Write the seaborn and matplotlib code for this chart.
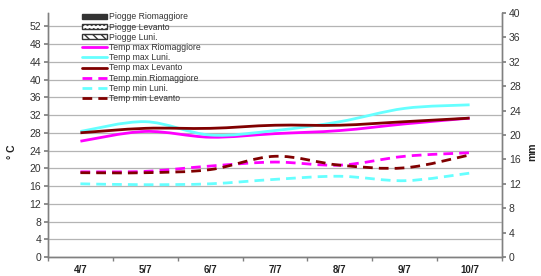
import numpy as np
import pandas as pd
import matplotlib
matplotlib.use("Agg")
import matplotlib.pyplot as plt
from matplotlib.path import Path
from matplotlib.patches import PathPatch, Patch
from matplotlib.lines import Line2D
import seaborn as sns

# --- dati ---
giorni = ["4/7", "5/7", "6/7", "7/7", "8/7", "9/7", "10/7"]
piogge_riomaggiore = [0, 0, 0, 0, 0, 0, 0]
piogge_levanto = [0, 0, 0, 0, 0, 0, 0]
piogge_luni = [0, 0, 0, 0, 0, 0, 0]
tmax_riomaggiore = [26.1, 28.3, 27.0, 27.8, 28.5, 30.0, 31.3]
tmax_luni = [28.3, 30.5, 27.5, 28.5, 30.5, 33.5, 34.3]
tmax_levanto = [28.0, 29.0, 29.0, 29.7, 29.7, 30.5, 31.3]
tmin_riomaggiore = [19.2, 19.3, 20.5, 21.4, 20.7, 22.7, 23.5]
tmin_luni = [16.5, 16.3, 16.5, 17.5, 18.2, 17.2, 18.9]
tmin_levanto = [19.0, 19.0, 19.7, 22.7, 20.7, 20.1, 23.0]

MAGENTA = "#ff00ff"
CIANO = "#66ffff"
BORDEAUX = "#800000"

sns.set_theme(style="white")
plt.rcParams["font.family"] = ["Liberation Sans", "DejaVu Sans"]

fig = plt.figure(figsize=(5.41, 2.76), dpi=100)
ax = fig.add_axes([0.0887, 0.0688, 0.8393, 0.8842])
ax2 = ax.twinx()

# piogge (tutte a zero) sull'asse destro
df_p = pd.DataFrame({"giorno": giorni * 3,
                     "mm": piogge_riomaggiore + piogge_levanto + piogge_luni,
                     "stazione": ["Riomaggiore"] * 7 + ["Levanto"] * 7 + ["Luni."] * 7})
sns.barplot(data=df_p, x="giorno", y="mm", hue="stazione", ax=ax2,
            palette=["#333333", "white", "white"], legend=False)


def curva(ax, ys, color, ls):
    # linea smussata stile Excel (Bezier)
    pts = np.column_stack([np.arange(len(ys)), ys]).astype(float)
    p = np.vstack([pts[0], pts, pts[-1]])
    verts = [tuple(pts[0])]
    codes = [Path.MOVETO]
    for i in range(1, len(p) - 2):
        c1 = p[i] + (p[i + 1] - p[i - 1]) / 6
        c2 = p[i + 1] - (p[i + 2] - p[i]) / 6
        verts += [tuple(c1), tuple(c2), tuple(p[i + 1])]
        codes += [Path.CURVE4] * 3
    patch = PathPatch(Path(verts, codes), facecolor="none", edgecolor=color,
                      lw=2.0, linestyle=ls, capstyle="butt", zorder=3)
    ax.add_patch(patch)


DASH = (0, (3.5, 2.2))
curva(ax, tmax_riomaggiore, MAGENTA, "-")
curva(ax, tmax_luni, CIANO, "-")
curva(ax, tmax_levanto, BORDEAUX, "-")
curva(ax, tmin_riomaggiore, MAGENTA, DASH)
curva(ax, tmin_luni, CIANO, DASH)
curva(ax, tmin_levanto, BORDEAUX, DASH)

ax.set_zorder(ax2.get_zorder() + 1)
ax.patch.set_visible(False)

ax.set_xlim(-0.5, 6.5)
ax.set_ylim(0, 55)
ax2.set_ylim(0, 40)
ax.set_yticks(np.arange(0, 53, 4))
ax2.set_yticks(np.arange(0, 41, 4))
ax.set_xticks(range(7))
ax.set_xticklabels(giorni, fontsize=7, fontweight="bold", color="#222222")
ax.set_xticks(np.arange(-0.5, 7, 1), minor=True)
ax.tick_params(axis="x", which="major", length=0, pad=6)
ax.tick_params(axis="x", which="minor", length=3, color="#808080", direction="out", bottom=True)
ax.tick_params(axis="y", labelsize=7.5, length=3, color="#808080", direction="out",
               left=True, pad=2, labelcolor="#333333")
ax2.tick_params(axis="y", labelsize=7.5, length=3, color="#808080", direction="out",
                right=True, pad=2, labelcolor="#333333")
ax2.set_xlabel("")
ax2.set_ylabel("")

ax.yaxis.grid(True, color="#b4b4b4", lw=0.9)
ax.xaxis.grid(False)
ax2.grid(False)

for a in (ax, ax2):
    a.spines["top"].set_visible(False)
    for s in ("left", "right", "bottom"):
        a.spines[s].set_color("#808080")
        a.spines[s].set_linewidth(1.0)

fig.text(0.022, 0.45, "° C", rotation=90, fontsize=7.5, fontweight="bold",
         ha="center", va="center", color="#222222")
fig.text(0.983, 0.45, "mm", rotation=90, fontsize=7.5, fontweight="bold",
         ha="center", va="center", color="#222222")

handles = [
    Patch(facecolor="#333333", edgecolor="#333333"),
    Patch(facecolor="white", edgecolor="#333333", hatch="...."),
    Patch(facecolor="white", edgecolor="#333333", hatch="\\\\\\\\"),
    Line2D([], [], color=MAGENTA, lw=2),
    Line2D([], [], color=CIANO, lw=2),
    Line2D([], [], color=BORDEAUX, lw=2),
    Line2D([], [], color=MAGENTA, lw=2, ls=DASH),
    Line2D([], [], color=CIANO, lw=2, ls=DASH),
    Line2D([], [], color=BORDEAUX, lw=2, ls=DASH),
]
labels = ["Piogge Riomaggiore", "Piogge Levanto", "Piogge Luni.",
          "Temp max Riomaggiore", "Temp max Luni.", "Temp max Levanto",
          "Temp min Riomaggiore", "Temp min Luni.", "Temp min Levanto"]
leg = ax.legend(handles, labels, loc="upper left", bbox_to_anchor=(0.151, 0.955),
                bbox_transform=fig.transFigure, frameon=False, fontsize=6.2,
                labelspacing=0.14, handlelength=2.95, handleheight=0.5,
                handletextpad=0.2, borderpad=0, borderaxespad=0)
for t in leg.get_texts():
    t.set_color("#333333")

fig.savefig("out.png", dpi=100)
